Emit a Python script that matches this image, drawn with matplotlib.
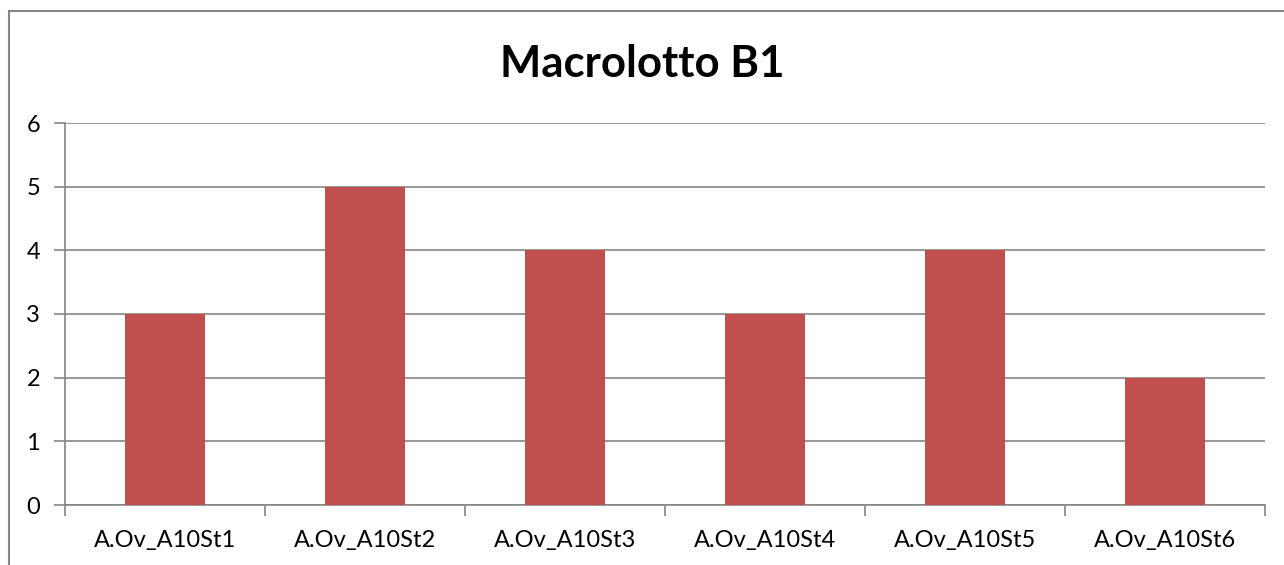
import matplotlib
matplotlib.use("Agg")
import matplotlib.pyplot as plt
from matplotlib.patches import Rectangle
import numpy as np

categories = ["A.Ov_A10St1", "A.Ov_A10St2", "A.Ov_A10St3",
              "A.Ov_A10St4", "A.Ov_A10St5", "A.Ov_A10St6"]
values = [3, 5, 4, 3, 4, 2]
yticks = [0, 1, 2, 3, 4, 5, 6]
title = "Macrolotto B1"

W, H = 1284, 565
fig = plt.figure(figsize=(W / 100, H / 100), dpi=100)
plt.rcParams["font.family"] = ["Lato", "DejaVu Sans"]

grey = "#868686"

# outer chart frame (extends beyond the right and bottom edges)
fig.patches.append(Rectangle((8.5 / W, -0.1), 1.2, 1 - 11.5 / H + 0.1,
                             transform=fig.transFigure, fill=False,
                             edgecolor=grey, linewidth=1.5))

left, right, top, bottom = 65, 1265, 123, 505
ax = fig.add_axes([left / W, 1 - bottom / H, (right - left) / W, (bottom - top) / H])

x = np.arange(len(categories))
ax.bar(x, values, width=0.4, color="#C0504D", zorder=3)

ax.set_xlim(-0.5, len(categories) - 0.5)
ax.set_ylim(0, 6)
ax.set_yticks(yticks)
ax.set_yticklabels([str(v) for v in yticks], fontsize=17)
ax.yaxis.grid(True, color=grey, linewidth=1.2, zorder=0)

ax.set_xticks(x)
ax.set_xticklabels(categories, fontsize=17)
ax.tick_params(axis="x", length=0, pad=18)
ax.set_xticks(np.arange(len(categories) + 1) - 0.5, minor=True)
ax.tick_params(axis="x", which="minor", length=8, width=1.2, color=grey)
ax.tick_params(axis="y", length=8, width=1.2, color=grey, pad=10)

for s in ["top", "right"]:
    ax.spines[s].set_visible(False)
for s in ["left", "bottom"]:
    ax.spines[s].set_color(grey)
    ax.spines[s].set_linewidth(1.2)

fig.text(0.5, 1 - 64 / H, title, ha="center", va="center",
         fontsize=31.5, fontweight="bold")

fig.savefig("out.png", dpi=100)
